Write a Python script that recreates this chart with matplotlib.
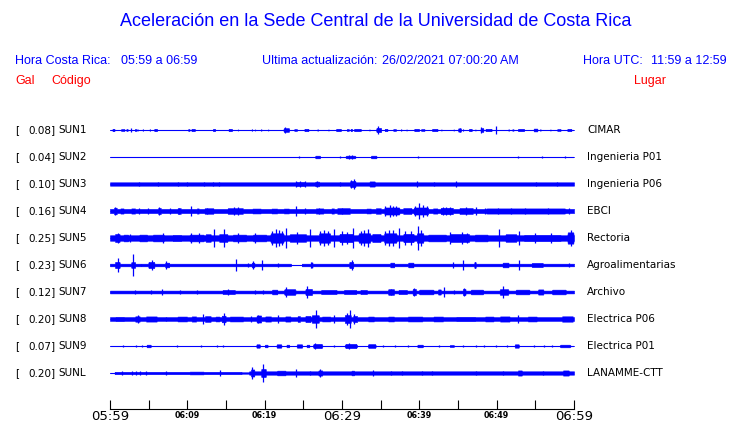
import numpy as np
import matplotlib
matplotlib.use("Agg")
import matplotlib.pyplot as plt
from matplotlib.transforms import blended_transform_factory

# ---------------- data ----------------
codes = ["SUN1", "SUN2", "SUN3", "SUN4", "SUN5", "SUN6", "SUN7", "SUN8", "SUN9", "SUNL"]
peaks = [0.08, 0.04, 0.10, 0.16, 0.25, 0.23, 0.12, 0.20, 0.07, 0.20]
places = ["CIMAR", "Ingenieria P01", "Ingenieria P06", "EBCI", "Rectoria",
          "Agroalimentarias", "Archivo", "Electrica P06", "Electrica P01", "LANAMME-CTT"]

tick_minutes = [0, 10, 20, 30, 40, 50, 60]
tick_labels = ["05:59", "06:09", "06:19", "06:29", "06:39", "06:49", "06:59"]
big_labels = ["05:59", "06:29", "06:59"]

# background noise level segments (t0, t1, half-amplitude Gal)
base_sun1 = []
base_sun2 = []
base_sun3 = [(0, 60, 0.036)]
base_sun4 = [(0, 60, 0.044)]
base_sun5 = [(0, 60, 0.058)]
base_sun6 = [(0, 23.4, 0.028), (24.8, 60, 0.028)]
base_sun7 = [(0, 60, 0.03)]
base_sun8 = [(0, 60, 0.04)]
base_sun9 = []
base_sunl = [(0.6, 17.0, 0.025), (17.0, 18.0, 0.015), (18.0, 60.0, 0.036)]

# bursts (t0, t1, half-amplitude Gal), minutes after 05:59
bursts_sun1 = [(0.3, 0.6, 0.025), (1.4, 1.9, 0.02), (2.1, 2.3, 0.02), (3.2, 3.4, 0.02), (3.5, 3.6, 0.015),
               (4.2, 4.3, 0.015), (5.1, 5.2, 0.015), (5.7, 6.1, 0.025), (10.1, 10.3, 0.02), (10.5, 11.0, 0.025),
               (13.3, 13.6, 0.025), (15.3, 15.8, 0.025), (16.5, 16.6, 0.012), (18.3, 18.4, 0.015),
               (18.7, 18.8, 0.012), (19.5, 19.6, 0.015), (20.4, 20.5, 0.012), (22.4, 23.2, 0.04),
               (23.8, 24.2, 0.02), (25.1, 25.7, 0.025), (26.8, 26.9, 0.015), (28.2, 28.3, 0.012),
               (29.2, 29.9, 0.025), (30.6, 30.9, 0.02), (31.1, 31.3, 0.025), (31.5, 32.5, 0.025),
               (33.5, 33.6, 0.012), (34.4, 35.1, 0.045), (35.5, 35.9, 0.025), (36.6, 37.0, 0.02),
               (37.6, 37.7, 0.015), (38.3, 38.4, 0.012), (39.3, 40.0, 0.025), (40.2, 40.7, 0.02),
               (41.6, 42.4, 0.025), (42.8, 42.9, 0.012), (44.4, 44.5, 0.012), (45.0, 45.4, 0.035),
               (45.6, 45.7, 0.015), (46.4, 46.8, 0.025), (47.2, 47.3, 0.012), (47.9, 48.3, 0.04),
               (48.5, 49.4, 0.025), (51.5, 51.6, 0.015), (52.0, 52.2, 0.015), (52.7, 53.6, 0.025),
               (54.75, 55.3, 0.03), (55.6, 55.7, 0.015), (56.9, 57.0, 0.012), (57.8, 58.3, 0.02),
               (59.1, 59.7, 0.025)]
bursts_sun2 = [(26.5, 27.2, 0.028), (30.4, 31.8, 0.028), (33.7, 34.5, 0.028)]
bursts_sun3 = [(24.0, 25.3, 0.045), (26.5, 27.1, 0.05), (31.0, 31.8, 0.065), (33.5, 34.3, 0.055)]
bursts_sun4 = [(0.5, 0.9, 0.07), (1.3, 1.8, 0.055), (2.7, 3.3, 0.055), (6.2, 6.6, 0.065), (8.7, 9.2, 0.06),
               (11.2, 11.5, 0.055), (12.1, 13.5, 0.058), (15.0, 17.4, 0.06), (18.3, 19.6, 0.052),
               (20.8, 21.7, 0.052), (22.4, 23.2, 0.052), (26.5, 27.7, 0.055), (28.6, 29.0, 0.055),
               (29.2, 31.2, 0.06), (33.1, 33.8, 0.052), (34.3, 35.1, 0.058), (35.3, 37.6, 0.075),
               (37.8, 39.1, 0.062), (39.1, 41.3, 0.075), (41.7, 42.4, 0.055), (42.6, 44.5, 0.068),
               (45.0, 47.1, 0.062), (47.5, 60.0, 0.055)]
bursts_sun5 = [(0.6, 1.3, 0.085), (1.7, 2.4, 0.072), (3.7, 4.9, 0.072), (5.4, 7.1, 0.072), (8.0, 9.3, 0.068),
               (10.1, 12.3, 0.072), (12.3, 13.1, 0.08), (14.0, 15.3, 0.082), (15.7, 17.8, 0.072),
               (18.3, 20.4, 0.072), (20.6, 22.6, 0.1), (23.0, 25.6, 0.08), (26.9, 28.6, 0.1),
               (29.5, 31.6, 0.088), (32.0, 33.8, 0.1), (33.8, 35.1, 0.085), (35.3, 37.2, 0.1),
               (37.8, 39.4, 0.088), (39.6, 40.6, 0.1), (40.9, 43.7, 0.072), (43.7, 46.7, 0.085),
               (47.0, 49.0, 0.072), (51.0, 52.7, 0.08), (53.0, 58.8, 0.068), (59.1, 60.0, 0.12)]
bursts_sun6 = [(0.6, 1.3, 0.065), (2.7, 3.3, 0.06), (4.9, 5.8, 0.065), (7.1, 7.7, 0.05), (18.3, 18.7, 0.05),
               (26.0, 26.2, 0.055), (30.9, 31.5, 0.065), (36.2, 36.8, 0.05), (38.5, 39.3, 0.05),
               (47.1, 47.3, 0.06), (50.7, 51.6, 0.05), (54.4, 56.1, 0.045)]
bursts_sun7 = [(14.4, 16.3, 0.045), (20.9, 21.7, 0.05), (22.4, 24.1, 0.06), (25.2, 26.2, 0.065),
               (27.1, 29.5, 0.045), (30.1, 32.0, 0.045), (32.3, 33.3, 0.045), (35.9, 36.8, 0.06),
               (37.2, 38.5, 0.045), (39.1, 39.6, 0.065), (39.8, 42.0, 0.05), (42.4, 42.8, 0.055),
               (45.6, 46.0, 0.065), (46.5, 48.4, 0.05), (50.3, 51.6, 0.06), (52.3, 54.4, 0.05),
               (55.3, 56.1, 0.055), (57.0, 59.1, 0.05)]
bursts_sun8 = [(0.6, 1.9, 0.047), (3.2, 3.9, 0.057), (4.5, 6.2, 0.055), (8.6, 10.1, 0.052), (10.5, 11.2, 0.055),
               (12.2, 13.1, 0.06), (13.6, 14.2, 0.052), (14.4, 15.0, 0.07), (15.3, 17.4, 0.052),
               (18.9, 19.6, 0.075), (20.0, 20.9, 0.055), (22.6, 23.4, 0.055), (24.3, 24.6, 0.06),
               (25.2, 26.0, 0.065), (26.0, 27.1, 0.08), (27.3, 28.6, 0.052), (30.3, 31.2, 0.085),
               (31.4, 32.0, 0.065), (33.3, 34.2, 0.052), (35.9, 36.8, 0.052), (38.3, 40.6, 0.052),
               (41.7, 43.2, 0.052), (44.5, 47.5, 0.047), (48.4, 49.7, 0.052), (50.3, 51.8, 0.055),
               (53.9, 55.3, 0.052), (58.3, 60.0, 0.057)]
bursts_sun9 = [(4.7, 5.3, 0.028), (18.9, 19.4, 0.036), (20.0, 20.4, 0.028), (21.5, 22.2, 0.036),
               (22.8, 23.2, 0.028), (24.1, 24.9, 0.036), (25.4, 25.8, 0.028), (26.2, 27.5, 0.045),
               (30.3, 32.0, 0.045), (33.3, 34.4, 0.04), (39.7, 40.5, 0.028), (43.9, 44.5, 0.021),
               (52.3, 52.9, 0.036), (58.1, 59.6, 0.028)]
bursts_sunl = [(10.1, 12.3, 0.03), (18.2, 18.7, 0.075), (19.5, 20.2, 0.085), (21.5, 22.8, 0.05),
               (26.9, 27.5, 0.055), (31.2, 31.6, 0.05), (52.7, 53.3, 0.055), (58.5, 59.4, 0.055)]

# single spikes (t, half-amplitude Gal)
spikes_sun1 = [(2.7, 0.045), (22.6, 0.07), (34.7, 0.075), (45.2, 0.045), (48.0, 0.06), (49.9, 0.08)]
spikes_sun2 = [(24.4, 0.028), (29.7, 0.015), (30.9, 0.04), (31.3, 0.04), (39.8, 0.012), (52.8, 0.015),
               (55.9, 0.015), (58.8, 0.028)]
spikes_sun3 = [(3.8, 0.05), (6.2, 0.045), (8.8, 0.045), (10.0, 0.045), (12.2, 0.045), (13.3, 0.045),
               (14.1, 0.05), (24.1, 0.06), (24.6, 0.055), (25.2, 0.055), (26.8, 0.065), (29.8, 0.05),
               (31.2, 0.08), (31.6, 0.1), (39.7, 0.06), (41.9, 0.045), (44.7, 0.055), (55.1, 0.045),
               (57.8, 0.045)]
spikes_sun4 = [(0.7, 0.085), (3.7, 0.055), (4.9, 0.055), (6.4, 0.085), (7.7, 0.055), (8.9, 0.07),
               (10.5, 0.1), (12.5, 0.07), (16.0, 0.085), (16.6, 0.075), (24.0, 0.11), (25.2, 0.07),
               (27.0, 0.065), (30.0, 0.07), (35.6, 0.1), (36.2, 0.12), (36.6, 0.11), (37.0, 0.1),
               (39.4, 0.11), (40.0, 0.16), (40.5, 0.12), (41.0, 0.1), (43.0, 0.09), (43.5, 0.085),
               (44.0, 0.09), (46.0, 0.08), (47.3, 0.085), (48.5, 0.07), (50.2, 0.07), (51.8, 0.07),
               (53.7, 0.07), (56.6, 0.07), (59.3, 0.07)]
spikes_sun5 = [(1.0, 0.1), (2.6, 0.095), (6.9, 0.1), (10.5, 0.1), (11.5, 0.1), (13.5, 0.19),
               (14.7, 0.185), (16.5, 0.1), (18.8, 0.1), (20.9, 0.15), (21.5, 0.19), (21.9, 0.16),
               (22.3, 0.14), (22.8, 0.21), (24.2, 0.12), (25.9, 0.19), (27.2, 0.15), (27.7, 0.17),
               (28.2, 0.15), (29.0, 0.19), (30.0, 0.14), (30.6, 0.13), (31.4, 0.21), (32.4, 0.15),
               (32.9, 0.16), (33.3, 0.19), (35.6, 0.15), (36.1, 0.17), (36.6, 0.16), (37.4, 0.21),
               (38.2, 0.14), (38.9, 0.15), (39.8, 0.25), (40.2, 0.17), (44.0, 0.12), (45.5, 0.13),
               (46.2, 0.11), (50.3, 0.19), (52.9, 0.14), (55.0, 0.1), (57.0, 0.1), (59.6, 0.16)]
spikes_sun6 = [(1.0, 0.14), (3.0, 0.23), (4.0, 0.03), (5.4, 0.1), (7.3, 0.095), (16.3, 0.13),
               (17.9, 0.05), (18.5, 0.08), (19.7, 0.115), (21.7, 0.04), (26.0, 0.06), (31.3, 0.115),
               (44.3, 0.057), (45.6, 0.115), (47.2, 0.065), (52.9, 0.1), (59.4, 0.045)]
spikes_sun7 = [(3.2, 0.043), (5.3, 0.043), (6.7, 0.07), (9.0, 0.043), (11.2, 0.043), (15.3, 0.07),
               (18.7, 0.036), (19.8, 0.036), (22.8, 0.115), (25.5, 0.12), (36.3, 0.07), (39.3, 0.075),
               (43.2, 0.105), (44.5, 0.05), (45.8, 0.085), (50.8, 0.12)]
spikes_sun8 = [(3.6, 0.093), (7.3, 0.05), (12.0, 0.105), (14.7, 0.13), (18.2, 0.055), (19.2, 0.085),
               (21.7, 0.085), (24.3, 0.065), (26.6, 0.2), (29.0, 0.08), (30.6, 0.12), (31.0, 0.19),
               (31.5, 0.1), (52.7, 0.08)]
spikes_sun9 = [(1.7, 0.021), (3.4, 0.028), (4.1, 0.028), (8.6, 0.028), (11.8, 0.028), (13.8, 0.028),
               (14.6, 0.021), (26.5, 0.07), (29.0, 0.021), (30.9, 0.07), (35.3, 0.021), (36.8, 0.021),
               (38.5, 0.028), (42.6, 0.028), (45.6, 0.021), (47.3, 0.021), (48.4, 0.021), (49.9, 0.021),
               (51.4, 0.021), (54.8, 0.021), (56.1, 0.021), (57.2, 0.021)]
spikes_sunl = [(1.5, 0.043), (2.8, 0.05), (3.4, 0.043), (3.9, 0.043), (4.7, 0.043), (7.3, 0.036),
               (14.2, 0.07), (18.4, 0.135), (19.8, 0.2), (24.0, 0.093), (25.8, 0.036), (27.2, 0.093),
               (34.0, 0.057), (36.3, 0.043), (37.8, 0.043), (40.4, 0.036), (41.7, 0.036), (47.3, 0.05),
               (50.8, 0.05), (56.0, 0.043)]

bases = [base_sun1, base_sun2, base_sun3, base_sun4, base_sun5, base_sun6, base_sun7, base_sun8, base_sun9, base_sunl]
bursts = [bursts_sun1, bursts_sun2, bursts_sun3, bursts_sun4, bursts_sun5, bursts_sun6, bursts_sun7,
          bursts_sun8, bursts_sun9, bursts_sunl]
spikes = [spikes_sun1, spikes_sun2, spikes_sun3, spikes_sun4, spikes_sun5, spikes_sun6, spikes_sun7,
          spikes_sun8, spikes_sun9, spikes_sunl]

# ---------------- layout ----------------
W, H = 740, 423
fig = plt.figure(figsize=(W / 100, H / 100), dpi=100)
fig.patch.set_facecolor("white")

BLUE = "#0000ff"
RED = "#ff0000"
SANS = "Liberation Sans"
MONO = "DejaVu Sans"


def fx(px):
    return px / W


def fy(py):
    return 1 - py / H


# trace axes: x 110..574 px, y 110..409 px
PX_PER_GAL = 47.0
ROW_PX = 27.0
ax = fig.add_axes([fx(110), fy(409), fx(574) - fx(110), (409 - 110) / H])
ax.set_xlim(0, 60)
ax.set_ylim(-(409 - 130) / PX_PER_GAL, (130 - 110) / PX_PER_GAL)
for s in ["top", "right", "left"]:
    ax.spines[s].set_visible(False)
ax.spines["bottom"].set_linewidth(0.8)
ax.set_yticks([])
ax.set_xticks(np.arange(0, 61, 5))
ax.set_xticklabels([])
ax.tick_params(axis="x", direction="in", length=6.5, width=0.8, color="black")

t = np.linspace(0, 60, 12001)
for i in range(len(codes)):
    off = -i * ROW_PX / PX_PER_GAL
    env = np.zeros_like(t)
    for a, b, v in bases[i]:
        m = (t >= a) & (t <= b)
        env[m] = np.maximum(env[m], v)
    for a, b, v in bursts[i]:
        tc, hw = (a + b) / 2, (b - a) / 2
        prof = v * np.clip(5 * (1 - np.abs(t - tc) / hw), 0, 1)
        env = np.maximum(env, prof)
    ax.fill_between(t, off - env, off + env, color=BLUE, lw=0.4, edgecolor=BLUE)
    ax.plot([0, 60], [off, off], color=BLUE, lw=0.8, solid_capstyle="butt")
    st = [s[0] for s in spikes[i]]
    sa = [s[1] for s in spikes[i]]
    ax.vlines(st, [off - a for a in sa], [off + a for a in sa], color=BLUE, lw=0.9)

    ypx = 130 + ROW_PX * i
    fig.text(fx(15), fy(ypx), "[", family=MONO, fontsize=7.5, va="center", ha="left")
    fig.text(fx(55.5), fy(ypx), f"{peaks[i]:.2f}]", family=MONO, fontsize=7.5, va="center", ha="right")
    fig.text(fx(58.5), fy(ypx), codes[i], family=MONO, fontsize=7.5, va="center", ha="left")
    fig.text(fx(587), fy(ypx), places[i], family=MONO, fontsize=7.5, va="center", ha="left")

# time labels
trans = blended_transform_factory(ax.transData, fig.transFigure)
for m, lab in zip(tick_minutes, tick_labels):
    if lab in big_labels:
        ax.text(m, fy(416), lab, transform=trans, family=MONO, fontsize=9.5, ha="center", va="center")
    else:
        ax.text(m, fy(415.5), lab, transform=trans, family=MONO, fontsize=5.8, fontweight="bold",
                ha="center", va="center")

# header texts
fig.text(fx(376), fy(22), "Aceleración en la Sede Central de la Universidad de Costa Rica",
         family=SANS, fontsize=13, color=BLUE, ha="center", va="center")
fig.text(fx(15), fy(60.5), "Hora Costa Rica:", family=SANS, fontsize=9, color=BLUE, va="center")
fig.text(fx(121), fy(60.5), "05:59 a 06:59", family=SANS, fontsize=9, color=BLUE, va="center")
fig.text(fx(262), fy(60.5), "Ultima actualización:", family=SANS, fontsize=9, color=BLUE, va="center")
fig.text(fx(382), fy(60.5), "26/02/2021 07:00:20 AM", family=SANS, fontsize=9, color=BLUE, va="center")
fig.text(fx(583), fy(60.5), "Hora UTC:", family=SANS, fontsize=9, color=BLUE, va="center")
fig.text(fx(727), fy(60.5), "11:59 a 12:59", family=SANS, fontsize=9, color=BLUE, va="center", ha="right")
fig.text(fx(15), fy(81), "Gal", family=SANS, fontsize=9, color=RED, va="center")
fig.text(fx(51), fy(81), "Código", family=SANS, fontsize=9, color=RED, va="center")
fig.text(fx(634), fy(81), "Lugar", family=SANS, fontsize=9, color=RED, va="center")

fig.savefig("out.png", dpi=100, facecolor="white")
